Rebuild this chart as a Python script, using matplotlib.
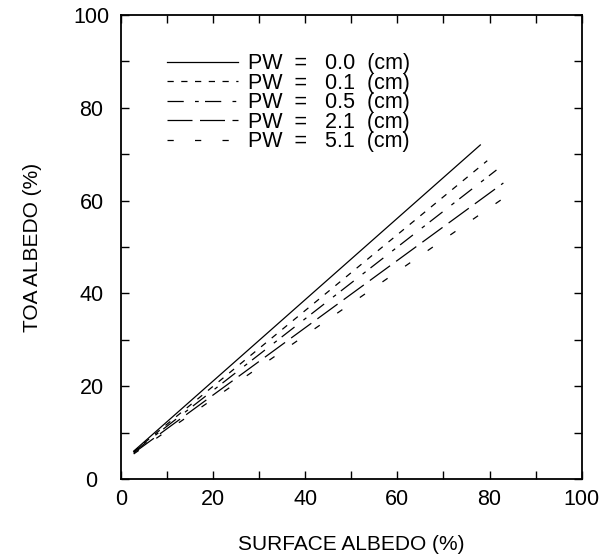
import matplotlib
matplotlib.use("Agg")
import matplotlib.pyplot as plt
from matplotlib.ticker import MultipleLocator

plt.rcParams["font.family"] = ["Liberation Sans", "DejaVu Sans"]

# surface albedo (%) at start/end of each curve
pw_labels = ["PW  =   0.0  (cm)", "PW  =   0.1  (cm)", "PW  =   0.5  (cm)",
             "PW  =   2.1  (cm)", "PW  =   5.1  (cm)"]
surf_start = [2.8, 2.8, 2.8, 2.8, 2.8]
surf_end = [78.0, 79.5, 81.5, 83.0, 84.0]
toa_start = [6.0, 5.9, 5.8, 5.6, 5.4]
toa_end = [72.0, 68.6, 66.6, 63.8, 61.2]

styles = ["-", (0, (5, 6)), (0, (13, 9, 3, 5)), (0, (20, 6)), (0, (5, 17))]

fig = plt.figure(figsize=(6.13, 5.57), dpi=100)
ax = fig.add_axes([0.197, 0.140, 0.752, 0.833])

for i in range(len(pw_labels)):
    ax.plot(
        [surf_start[i], surf_end[i]],
        [toa_start[i], toa_end[i]],
        color="black",
        linewidth=0.9,
        linestyle=styles[i],
        label=pw_labels[i]
    )

ax.set_xlim(0, 100)
ax.set_ylim(0, 100)

ax.xaxis.set_major_locator(MultipleLocator(20))
ax.yaxis.set_major_locator(MultipleLocator(20))
ax.xaxis.set_minor_locator(MultipleLocator(10))
ax.yaxis.set_minor_locator(MultipleLocator(10))

ax.tick_params(which="both", direction="in", top=True, right=True,
               length=6, width=1.0, labelsize=15.5)
ax.tick_params(axis="x", pad=7)
ax.tick_params(axis="y", pad=21)
for lab in ax.get_yticklabels():
    lab.set_horizontalalignment("center")

for s in ax.spines.values():
    s.set_linewidth(1.3)

ax.set_xlabel("SURFACE ALBEDO (%)", fontsize=15, labelpad=18)
ax.set_ylabel("TOA ALBEDO (%)", fontsize=15, labelpad=23)

ax.legend(
    loc="upper left",
    bbox_to_anchor=(0.1, 0.918),
    frameon=False,
    fontsize=15.5,
    handlelength=3.3,
    handletextpad=0.46,
    labelspacing=-0.07,
    borderpad=0,
    borderaxespad=0
)

fig.savefig("out.png", dpi=100)
